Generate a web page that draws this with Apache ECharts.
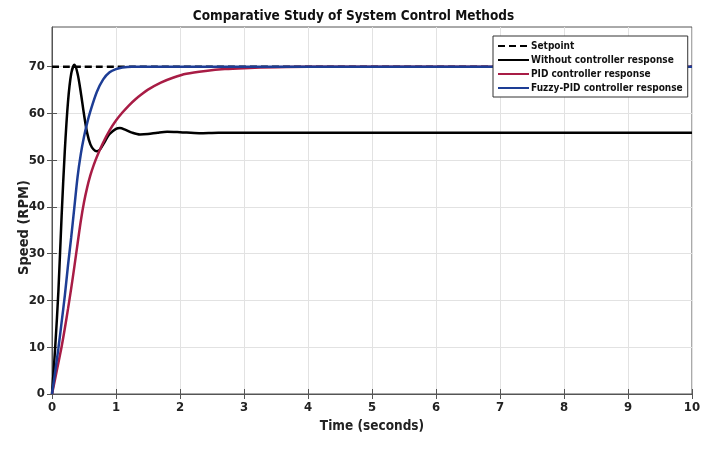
<!DOCTYPE html>
<html>
<head>
<meta charset="utf-8">
<title>Comparative Study of System Control Methods</title>
<script src="https://cdn.jsdelivr.net/npm/echarts@6/dist/echarts.min.js"></script>
<style>
	html, body { margin: 0; padding: 0; background: #fff; }
	#chart { width: 707px; height: 452px; }
</style>
</head>
<body>
<div id="chart"></div>
<script>
/*
 * values (time in s, speed in RPM)
 */
var setTime = [0, 10];
var setSpeed = [70, 70];

var openTime = [0, 0.05, 0.1, 0.15, 0.2, 0.25, 0.3, 0.35, 0.4, 0.45, 0.5, 0.55, 0.6, 0.65, 0.7, 0.75, 0.8, 0.9, 1.0, 1.06, 1.15, 1.25, 1.375, 1.5, 1.65, 1.8, 2.0, 2.3, 2.6, 10];
var openSpeed = [0, 10, 22, 38, 52, 62.5, 68.5, 70.4, 68.5, 64.5, 59.8, 55.8, 53.4, 52.3, 51.9, 52.3, 53.4, 55.6, 56.7, 56.9, 56.5, 55.9, 55.5, 55.6, 55.9, 56.1, 56.0, 55.8, 55.9, 55.9];

var pidTime = [0, 0.05, 0.1, 0.15, 0.2, 0.25, 0.3, 0.35, 0.4, 0.45, 0.5, 0.55, 0.6, 0.65, 0.7, 0.8, 0.9, 1.0, 1.1, 1.2, 1.3, 1.4, 1.5, 1.7, 1.9, 2.1, 2.4, 2.7, 3.0, 3.5, 4.0, 10];
var pidSpeed = [0, 3.3, 6.7, 10.1, 14, 18.2, 22.6, 27.3, 32.2, 37, 41, 44.2, 46.8, 48.9, 50.7, 53.8, 56.4, 58.5, 60.2, 61.7, 63, 64.1, 65.1, 66.6, 67.7, 68.5, 69.1, 69.5, 69.7, 69.9, 70, 70];

var fuzzyTime = [0, 0.05, 0.1, 0.15, 0.2, 0.25, 0.3, 0.35, 0.4, 0.45, 0.5, 0.55, 0.6, 0.7, 0.8, 0.9, 1.0, 1.1, 1.25, 1.5, 10];
var fuzzySpeed = [0, 4.8, 9.8, 15.3, 21, 27.5, 33.5, 40, 46.5, 51.3, 55, 58, 60.5, 64.6, 67.3, 68.8, 69.5, 69.85, 70, 70, 70];

var xTicks = [0, 1, 2, 3, 4, 5, 6, 7, 8, 9, 10];
var yTicks = [0, 10, 20, 30, 40, 50, 60, 70];

var fontNarrow = "'Liberation Sans Narrow', 'DejaVu Sans Condensed', 'Liberation Sans', sans-serif";

function pairs(ts, vs){
	var out = [];
	for (var i = 0; i < ts.length; i++) {
		out.push([ts[i], vs[i]]);
	}
	return out;
}

function lineSeries(name, ts, vs, color, type){
	return {
		name : name,
		type : 'line',
		data : pairs(ts, vs),
		showSymbol : false,
		symbol : 'none',
		smooth : 0.3,
		animation : false,
		lineStyle : { color : color, width : 2.5, type : type || 'solid' },
		itemStyle : { color : color }
	};
}

var myChart = echarts.init(document.getElementById('chart'));
var option = {
	backgroundColor : '#fff',
	title : {
		text : 'Comparative Study of System Control Methods',
		left : 'center',
		top : 4,
		textStyle : { fontFamily : fontNarrow, fontWeight : 'bold', fontSize : 13.5, color : '#111' }
	},
	legend : {
		orient : 'vertical',
		left : 493,
		top : 36,
		padding : [5, 5, 4, 4],
		itemGap : 4,
		itemWidth : 31,
		itemHeight : 11,
		backgroundColor : '#fff',
		borderColor : '#333',
		borderWidth : 1,
		borderRadius : 0,
		itemStyle : { opacity : 0 },
		textStyle : { fontFamily : fontNarrow, fontWeight : 'bold', fontSize : 10, color : '#111', padding : [0, 0, 0, -3] },
		data : [ 'Setpoint', 'Without controller response', 'PID controller response', 'Fuzzy-PID controller response' ]
	},
	grid : {
		left : 52, right : 15, top : 27, bottom : 58,
		outerBoundsMode : 'none',
		show : true,
		borderColor : '#555',
		borderWidth : 1,
		backgroundColor : '#fff'
	},
	xAxis : [ {
		type : 'value',
		min : 0, max : 10, interval : 1,
		name : 'Time (seconds)',
		nameLocation : 'middle',
		nameGap : 25,
		nameMoveOverlap : false,
		nameTextStyle : { fontFamily : fontNarrow, fontWeight : 'bold', fontSize : 13.5, color : '#222' },
		axisLine : { show : true, onZero : false, lineStyle : { color : '#555' } },
		axisTick : { show : true, inside : true, length : 5, customValues : xTicks, lineStyle : { color : '#555' } },
		axisLabel : {
			margin : 7,
			customValues : xTicks,
			fontFamily : fontNarrow, fontWeight : 'bold', fontSize : 13, color : '#222'
		},
		splitLine : { show : true, lineStyle : { color : '#e2e2e2' } }
	}, {
		type : 'value',
		position : 'top',
		min : 0, max : 10, interval : 1,
		axisLine : { show : false },
		axisTick : { show : true, inside : true, length : 5, customValues : xTicks, lineStyle : { color : '#555' } },
		axisLabel : { show : false },
		splitLine : { show : false }
	} ],
	yAxis : [ {
		type : 'value',
		min : 0, max : 78.5, interval : 10,
		name : 'Speed (RPM)',
		nameLocation : 'middle',
		nameGap : 20,
		nameMoveOverlap : false,
		nameTextStyle : { fontFamily : fontNarrow, fontWeight : 'bold', fontSize : 14.5, color : '#222', padding : [0, 34, 0, 0] },
		axisLine : { show : true, onZero : false, lineStyle : { color : '#555' } },
		axisTick : { show : true, inside : true, length : 5, customValues : yTicks, lineStyle : { color : '#555' } },
		axisLabel : {
			margin : 7,
			customValues : yTicks,
			fontFamily : fontNarrow, fontWeight : 'bold', fontSize : 13, color : '#222'
		},
		splitLine : { show : true, lineStyle : { color : '#e2e2e2' } }
	}, {
		type : 'value',
		position : 'right',
		min : 0, max : 78.5, interval : 10,
		axisLine : { show : false },
		axisTick : { show : true, inside : true, length : 5, customValues : yTicks, lineStyle : { color : '#555' } },
		axisLabel : { show : false },
		splitLine : { show : false }
	} ],
	series : [
		lineSeries('Setpoint', setTime, setSpeed, '#000', [7, 4]),
		lineSeries('Without controller response', openTime, openSpeed, '#000'),
		lineSeries('PID controller response', pidTime, pidSpeed, '#a81c45'),
		lineSeries('Fuzzy-PID controller response', fuzzyTime, fuzzySpeed, '#1d3d95')
	]
};
myChart.setOption(option);
</script>
</body>
</html>
